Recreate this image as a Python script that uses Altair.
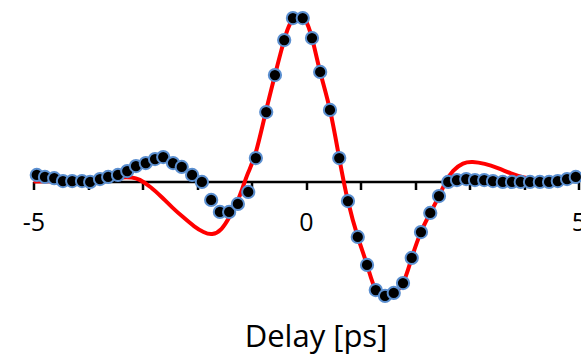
import altair as alt
import pandas as pd

# Measured points (delay in ps, normalized signal)
dot_x = [-4.94, -4.79, -4.62, -4.46, -4.29, -4.11, -3.96, -3.78, -3.63, -3.45,
         -3.28, -3.12, -2.94, -2.77, -2.62, -2.44, -2.28, -2.09, -1.91, -1.74,
         -1.58, -1.41, -1.25, -1.06, -0.92, -0.73, -0.57, -0.40, -0.24, -0.06,
         0.11, 0.26, 0.44, 0.61, 0.77, 0.95, 1.12, 1.28, 1.45, 1.61,
         1.78, 1.94, 2.11, 2.28, 2.44, 2.61, 2.77, 2.94, 3.10, 3.27,
         3.43, 3.61, 3.78, 3.94, 4.11, 4.29, 4.46, 4.62, 4.79, 4.95]
dot_y = [0.040, 0.028, 0.020, 0.003, 0.003, 0.003, -0.003, 0.015, 0.028, 0.040,
         0.064, 0.095, 0.113, 0.138, 0.150, 0.113, 0.089, 0.040, -0.003, -0.113,
         -0.187, -0.187, -0.138, -0.064, 0.144, 0.426, 0.653, 0.868, 1.003, 1.003,
         0.880, 0.672, 0.439, 0.144, -0.120, -0.340, -0.512, -0.666, -0.702, -0.684,
         -0.623, -0.469, -0.310, -0.193, -0.089, -0.003, 0.009, 0.015, 0.009, 0.009,
         0.003, -0.003, -0.003, -0.003, -0.003, -0.003, -0.003, 0.003, 0.015, 0.028]

# Fitted curve
fit_x = [-5.0, -4.5, -4.0, -3.6, -3.4, -3.2, -3.05, -2.85, -2.65, -2.45,
         -2.25, -2.05, -1.88, -1.72, -1.55, -1.40, -1.27, -1.17, -1.06, -0.92,
         -0.75, -0.57, -0.40, -0.28, -0.15, -0.02, 0.11, 0.26, 0.44, 0.61,
         0.77, 0.95, 1.12, 1.28, 1.46, 1.61, 1.78, 1.94, 2.11, 2.28,
         2.44, 2.56, 2.70, 2.88, 3.06, 3.28, 3.52, 3.76, 4.00, 4.30,
         4.65, 5.0]
fit_y = [0.000, 0.003, 0.005, 0.015, 0.025, 0.025, 0.010, -0.035, -0.095, -0.160,
         -0.220, -0.275, -0.310, -0.322, -0.290, -0.215, -0.130, -0.045, 0.055, 0.180,
         0.410, 0.653, 0.868, 0.975, 1.020, 0.995, 0.880, 0.672, 0.439, 0.144,
         -0.120, -0.340, -0.512, -0.666, -0.708, -0.684, -0.623, -0.469, -0.310, -0.193,
         -0.089, -0.005, 0.065, 0.110, 0.120, 0.108, 0.082, 0.050, 0.025, 0.009,
         0.003, 0.003]

tick_values = [-5, -4, -3, -2, -1, 0, 1, 2, 3, 4, 5]
labelled_ticks = [-5, 0, 5]

dots = pd.DataFrame({"x": dot_x, "y": dot_y})
fit = pd.DataFrame({"x": fit_x, "y": fit_y})

W, H = 545, 294
y_dom = [-0.7515, 1.0521]
axis_offset = H * y_dom[1] / (y_dom[1] - y_dom[0]) - H

label_expr = ("indexof(" + str(labelled_ticks) + ", datum.value) >= 0 ? "
              "toString(datum.value) : ''")

xscale = alt.Scale(domain=[-5, 5], nice=False, zero=False)
yscale = alt.Scale(domain=y_dom, nice=False, zero=False)

xaxis = alt.Axis(
    values=tick_values,
    labelExpr=label_expr,
    offset=axis_offset,
    grid=False,
    domainColor="black",
    domainWidth=2.5,
    tickColor="black",
    tickWidth=2.5,
    tickSize=8,
    labelFont="Open Sans",
    labelFontSize=25,
    labelColor="black",
    labelPadding=21,
    labelFlush=False,
    labelOverlap=False,
    title="Delay [ps]",
    titleFont="Open Sans",
    titleFontSize=31,
    titleFontWeight="normal",
    titleColor="black",
    titleX=282,
    titleY=141,
    titleAlign="center",
    titleBaseline="top",
)

line = alt.Chart(fit).mark_line(color="#ff0000", strokeWidth=4, interpolate="natural").encode(
    x=alt.X("x:Q", scale=xscale, axis=xaxis),
    y=alt.Y("y:Q", scale=yscale, axis=None),
)

points = alt.Chart(dots).mark_point(
    filled=True, fill="black", stroke="#5b8fd0", strokeWidth=2, size=150, opacity=1, shape="circle"
).encode(
    x=alt.X("x:Q", scale=xscale),
    y=alt.Y("y:Q", scale=yscale),
)

chart = alt.layer(line, points).properties(
    width=W,
    height=H,
    autosize=alt.AutoSizeParams(type="none"),
    padding={"left": 33.5, "top": 10, "right": 2.5, "bottom": 53},
).configure(background="white", view=alt.ViewConfig(stroke=None))

chart.save("out.html", embed_options={"renderer": "svg", "actions": False})
